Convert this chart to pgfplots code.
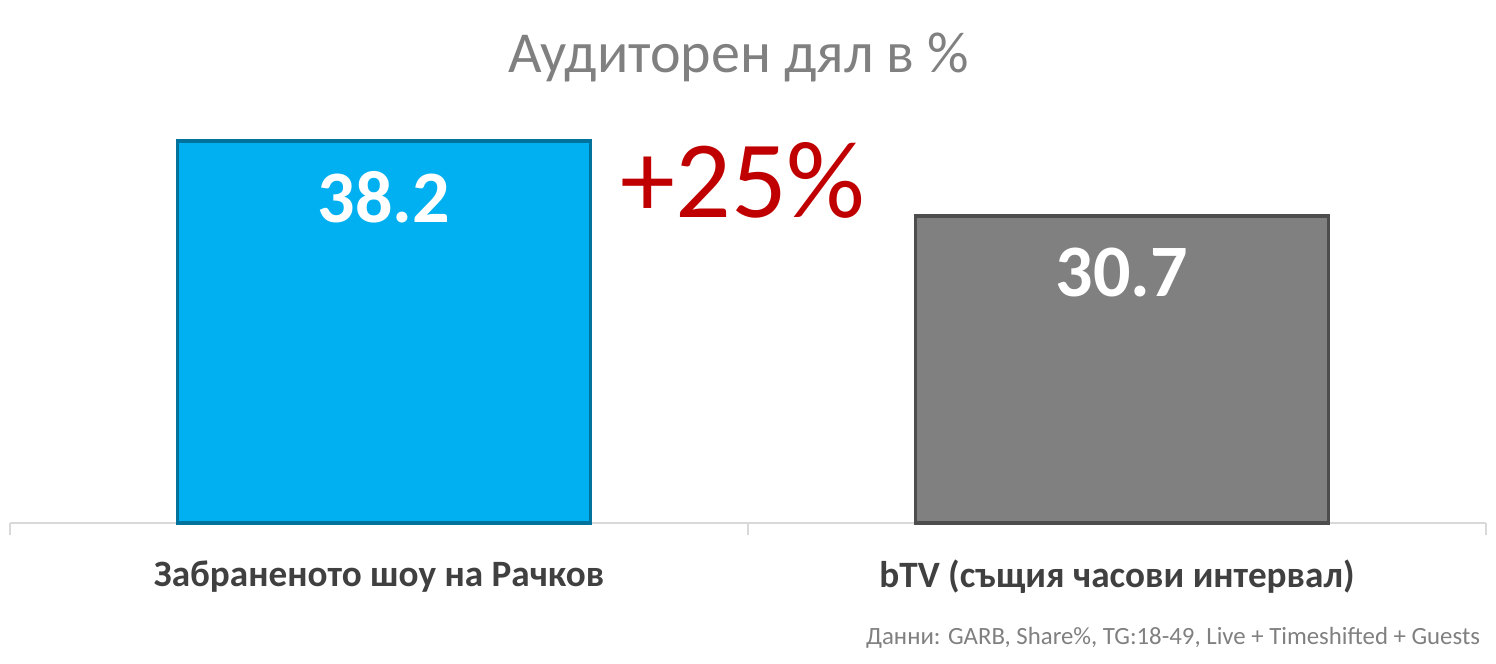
\documentclass[border=0pt]{standalone}
\usepackage{pgfplots}
\pgfplotsset{compat=1.18}
\usepackage{fontspec}
\setmainfont{Carlito}
\definecolor{cblue}{HTML}{00B0F0}
\definecolor{cgray}{HTML}{808080}
\definecolor{lbl}{HTML}{404040}
\definecolor{ttl}{HTML}{808080}
\definecolor{red25}{HTML}{C00000}
\definecolor{axc}{HTML}{D9D9D9}
\begin{document}
\begin{tikzpicture}
\useasboundingbox (-5pt,-70.5pt) rectangle (743pt,261.5pt);
\begin{axis}[
  x=369pt, y=5pt,
  xmin=-0.5, xmax=1.5, ymin=0, ymax=40,
  scale only axis,
  axis x line*=bottom, axis y line=none,
  axis line style={axc, line width=0.8pt},
  xtick={0,1},
  xticklabels={Забраненото шоу на Рачков, bTV (същия часови интервал)},
  major tick length=0pt,
  minor xtick={-0.5,0.5,1.5},
  minor tick length=6pt,
  tick align=outside,
  minor tick style={axc, line width=0.8pt},
  xticklabel style={font=\fontsize{18.6}{22}\selectfont\bfseries, text=lbl, anchor=center, yshift=-27pt},
  ybar, bar width=206.5pt, bar shift=2.5pt,
  clip=false,
  nodes near coords,
  nodes near coords style={font=\fontsize{37}{40}\selectfont\bfseries, text=white, anchor=center, yshift=-28pt},
  point meta=explicit symbolic,
]
\addplot[fill=cblue, draw=cblue!65!black, line width=1.8pt] coordinates {(0,38.2) [38.2]};
\addplot[fill=cgray, draw=cgray!60!black, line width=1.8pt] coordinates {(1,30.7) [30.7]};
\end{axis}
\node[text=ttl, font=\fontsize{29}{33}\selectfont] at (364.5pt,233pt) {Аудиторен дял в \%};
\node[text=red25, font=\fontsize{55}{60}\selectfont] at (366.5pt,171.5pt) {+25\%};
\node[text=ttl, font=\fontsize{12.4}{14}\selectfont, anchor=east] at (738.5pt,-57.5pt) {Данни: GARB, Share\%, TG:18-49, Live + Timeshifted + Guests};
\end{tikzpicture}
\end{document}
